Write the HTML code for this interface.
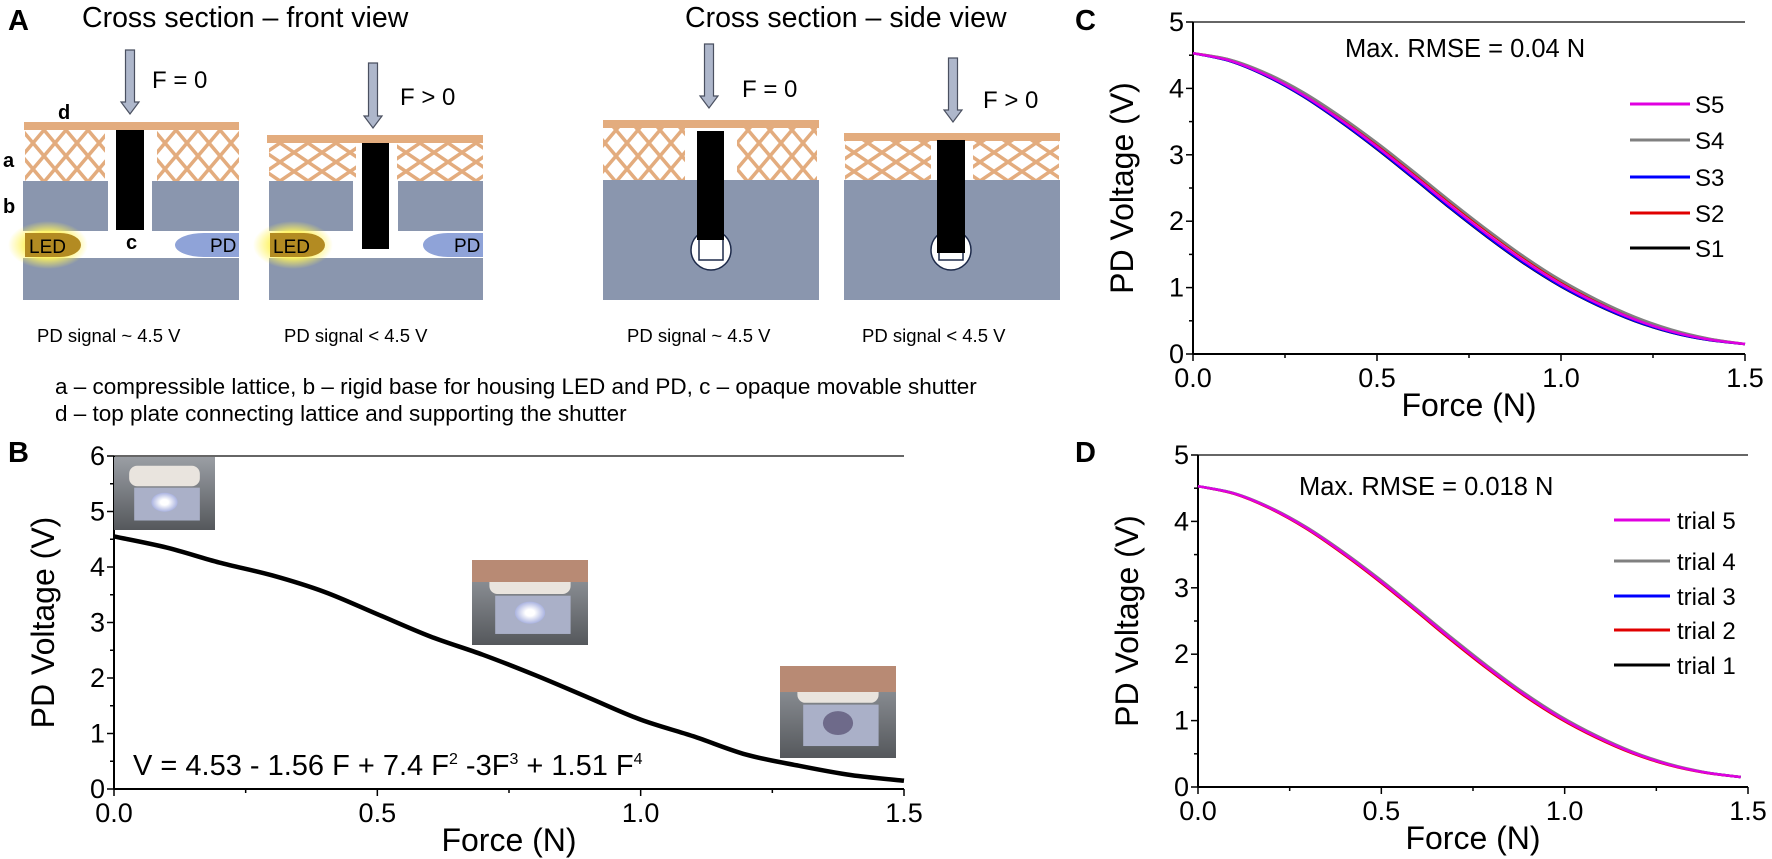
<!DOCTYPE html>
<html><head><meta charset="utf-8"><style>
html,body{margin:0;padding:0;background:#fff;}
svg{display:block;font-family:"Liberation Sans",Arial,sans-serif;}
</style></head><body>
<svg id="s" width="1772" height="859" viewBox="0 0 1772 859" xmlns="http://www.w3.org/2000/svg">
<defs>
<pattern id="lat" patternUnits="userSpaceOnUse" width="22" height="26" x="0" y="130">
<path d="M0,0 L22,26 M22,0 L0,26" stroke="#E3AC7E" stroke-width="3.5"/></pattern>
<pattern id="latc" patternUnits="userSpaceOnUse" width="28" height="19" x="0" y="143">
<path d="M0,0 L28,19 M28,0 L0,19" stroke="#E3AC7E" stroke-width="3.5"/></pattern>
<radialGradient id="glow"><stop offset="0.55" stop-color="#FFF35A" stop-opacity="0.9"/><stop offset="1" stop-color="#FFF35A" stop-opacity="0"/></radialGradient>
<linearGradient id="ph" x1="0" y1="0" x2="0" y2="1"><stop offset="0" stop-color="#9a9ea4"/><stop offset="1" stop-color="#55585c"/></linearGradient>
<radialGradient id="led2"><stop offset="0.3" stop-color="#fff"/><stop offset="1" stop-color="#aab3e0"/></radialGradient>
</defs>
<g font-size="28.5" fill="#000">
<text x="8" y="30" font-weight="bold" font-size="29">A</text>
<text x="82" y="27">Cross section – front view</text>
<text x="685" y="27">Cross section – side view</text>
</g>
<g id="diag"></g>
<g font-size="18.5">
<text x="37" y="342">PD signal ~ 4.5 V</text>
<text x="284" y="342">PD signal &lt; 4.5 V</text>
<text x="627" y="342">PD signal ~ 4.5 V</text>
<text x="862" y="342">PD signal &lt; 4.5 V</text>
<text x="55" y="394" font-size="22.5">a – compressible lattice, b – rigid base for housing LED and PD, c – opaque movable shutter</text>
<text x="55" y="421" font-size="22.5">d – top plate connecting lattice and supporting the shutter</text>
</g>
<g id="plots"></g>
</svg>
<script>
const NS="http://www.w3.org/2000/svg";
function el(p,t,a,txt){const e=document.createElementNS(NS,t);for(const k in a)e.setAttribute(k,a[k]);if(txt!==undefined)e.textContent=txt;p.appendChild(e);return e;}
const D=document.getElementById("diag");
const PL="#E3AC7E",BS="#8A96AE";
function arrow(x,y1,y2){const w=4.5;el(D,"path",{d:`M${x-w},${y1} L${x+w},${y1} L${x+w},${y2-12} L${x+9},${y2-12} L${x},${y2} L${x-9},${y2-12} L${x-w},${y2-12} Z`,fill:"#AEB7CB",stroke:"#4a5060","stroke-width":1.2});}
function txt(x,y,s,fs,b){el(D,"text",{x:x,y:y,"font-size":fs||24,"font-weight":b?"bold":"normal"},s);}
arrow(130,50,114);txt(152,88,"F = 0");
el(D,"rect",{x:24,y:122,width:215,height:8,fill:PL});
el(D,"rect",{x:25,y:130,width:80,height:51,fill:"url(#lat)"});
el(D,"rect",{x:157,y:130,width:82,height:51,fill:"url(#lat)"});
el(D,"rect",{x:23,y:181,width:85,height:50,fill:BS});
el(D,"rect",{x:152,y:181,width:87,height:50,fill:BS});
el(D,"rect",{x:23,y:258,width:216,height:42,fill:BS});
el(D,"ellipse",{cx:48,cy:245,rx:40,ry:24,fill:"url(#glow)"});
el(D,"path",{d:"M25,233 L60,233 A21,12 0 0 1 60,257 L25,257 Z",fill:"#B38B22"});
txt(29,253,"LED",19);
el(D,"path",{d:"M239,233 L204,233 A29,12 0 0 0 204,257 L239,257 Z",fill:"#8FA3D8"});
txt(210,252,"PD",19);
el(D,"rect",{x:116,y:130,width:28,height:100,fill:"#000"});
txt(58,119,"d",20,1);txt(3,167,"a",20,1);txt(3,213,"b",20,1);txt(126,249,"c",20,1);
arrow(373,63,128);txt(400,105,"F > 0");
el(D,"rect",{x:267,y:135,width:216,height:8,fill:PL});
el(D,"rect",{x:269,y:143,width:87,height:38,fill:"url(#latc)"});
el(D,"rect",{x:397,y:143,width:86,height:38,fill:"url(#latc)"});
el(D,"rect",{x:269,y:181,width:84,height:50,fill:BS});
el(D,"rect",{x:398,y:181,width:85,height:50,fill:BS});
el(D,"rect",{x:269,y:258,width:214,height:42,fill:BS});
el(D,"ellipse",{cx:293,cy:245,rx:40,ry:24,fill:"url(#glow)"});
el(D,"path",{d:"M270,233 L304,233 A21,12 0 0 1 304,257 L270,257 Z",fill:"#B38B22"});
txt(273,253,"LED",19);
el(D,"path",{d:"M483,233 L448,233 A25,12 0 0 0 448,257 L483,257 Z",fill:"#8FA3D8"});
txt(454,252,"PD",19);
el(D,"rect",{x:362,y:143,width:27,height:106,fill:"#000"});
arrow(709,44,108);txt(742,97,"F = 0");
el(D,"rect",{x:603,y:120,width:216,height:8,fill:PL});
el(D,"rect",{x:603,y:128,width:82,height:52,fill:"url(#lat)"});
el(D,"rect",{x:737,y:128,width:80,height:52,fill:"url(#lat)"});
el(D,"rect",{x:603,y:180,width:216,height:120,fill:BS});
el(D,"circle",{cx:711,cy:250,r:20,fill:"#fff",stroke:"#1d2a4a","stroke-width":1.5});
el(D,"rect",{x:699,y:238,width:24,height:22,fill:"#fff",stroke:"#1d2a4a","stroke-width":1.5});
el(D,"rect",{x:697,y:131,width:27,height:109,fill:"#000"});
arrow(953,58,122);txt(983,108,"F > 0");
el(D,"rect",{x:844,y:133,width:216,height:8,fill:PL});
el(D,"rect",{x:845,y:141,width:86,height:39,fill:"url(#latc)"});
el(D,"rect",{x:973,y:141,width:86,height:39,fill:"url(#latc)"});
el(D,"rect",{x:844,y:180,width:216,height:120,fill:BS});
el(D,"circle",{cx:951,cy:250,r:20,fill:"#fff",stroke:"#1d2a4a","stroke-width":1.5});
el(D,"rect",{x:939,y:248,width:24,height:12,fill:"#fff",stroke:"#1d2a4a","stroke-width":1.5});
el(D,"rect",{x:937,y:140,width:28,height:113,fill:"#000"});

const P=document.getElementById("plots");
function path(ax,pts){
 const p=pts.map(q=>[ax.X(q[0]),ax.Y(q[1])]);let d=`M${p[0][0]},${p[0][1]}`;
 for(let i=0;i<p.length-1;i++){const p0=p[Math.max(0,i-1)],p1=p[i],p2=p[i+1],p3=p[Math.min(p.length-1,i+2)];
 d+=` C${p1[0]+(p2[0]-p0[0])/6},${p1[1]+(p2[1]-p0[1])/6} ${p2[0]-(p3[0]-p1[0])/6},${p2[1]-(p3[1]-p1[1])/6} ${p2[0]},${p2[1]}`;}
 return d;}
function axes(o){
 const ax={X:f=>o.l+f/1.5*(o.r-o.l),Y:v=>o.b-v/o.max*(o.b-o.t)};
 el(P,"line",{x1:o.l,y1:o.t,x2:o.r,y2:o.t,stroke:"#333","stroke-width":1.5});
 el(P,"line",{x1:o.l,y1:o.b,x2:o.r,y2:o.b,stroke:"#000","stroke-width":2});
 el(P,"line",{x1:o.l,y1:o.t,x2:o.l,y2:o.b,stroke:"#000","stroke-width":2});
 for(let v=0;v<=o.max+1e-9;v+=0.5){const y=ax.Y(v),maj=Math.abs(v-Math.round(v))<1e-6;
  el(P,"line",{x1:o.l,y1:y,x2:o.l-(maj?7:4),y2:y,stroke:"#000","stroke-width":1.5});
  if(maj)el(P,"text",{x:o.l-9,y:y+9,"text-anchor":"end","font-size":27},String(v));}
 for(let f=0;f<=1.5001;f+=0.25){const x=ax.X(f),maj=Math.abs(f*2-Math.round(f*2))<1e-6;
  el(P,"line",{x1:x,y1:o.b,x2:x,y2:o.b+(maj?7:4),stroke:"#000","stroke-width":1.5});
  if(maj)el(P,"text",{x:x,y:o.b+33,"text-anchor":"middle","font-size":27},f.toFixed(1));}
 el(P,"text",{x:(o.l+o.r)/2,y:o.b+62,"text-anchor":"middle","font-size":32},"Force (N)");
 el(P,"text",{x:0,y:0,"text-anchor":"middle","font-size":32,transform:`translate(${o.l-60},${(o.t+o.b)/2}) rotate(-90)`},"PD Voltage (V)");
 return ax;}
const B=axes({l:114,r:904,t:456,b:789,max:6});
el(P,"text",{x:8,y:462,"font-weight":"bold","font-size":29},"B");
function photo(x,y,w,h,glow){el(P,"rect",{x,y,width:w,height:h,fill:"url(#ph)"});
 el(P,"rect",{x:x+w*0.15,y:y+h*0.12,width:w*0.7,height:h*0.28,rx:8,fill:"#e9e4de"});
 el(P,"rect",{x:x+w*0.2,y:y+h*0.42,width:w*0.65,height:h*0.45,fill:"#aab0c8"});
 el(P,"ellipse",{cx:x+w*0.5,cy:y+h*0.62,rx:w*0.13,ry:h*0.13,fill:glow?"url(#led2)":"#6e6a8a"});}
photo(114,457,101,73,1);photo(472,560,116,85,1);photo(780,666,116,92,0);
el(P,"rect",{x:472,y:560,width:116,height:22,fill:"#b88a74"});
el(P,"rect",{x:780,y:666,width:116,height:26,fill:"#b88a74"});
const bd=[[0,4.55],[0.1,4.35],[0.2,4.08],[0.3,3.85],[0.4,3.55],[0.5,3.15],[0.6,2.75],[0.7,2.42],[0.8,2.05],[0.9,1.65],[1.0,1.25],[1.1,0.95],[1.2,0.62],[1.3,0.42],[1.4,0.25],[1.5,0.15]];
el(P,"path",{d:path(B,bd),fill:"none",stroke:"#000","stroke-width":4.5});
const eq=el(P,"text",{x:133,y:775,"font-size":29});
eq.innerHTML='V = 4.53 - 1.56 F + 7.4 F<tspan dy="-11" font-size="16">2</tspan><tspan dy="11"> -3F</tspan><tspan dy="-11" font-size="16">3</tspan><tspan dy="11"> + 1.51 F</tspan><tspan dy="-11" font-size="16">4</tspan>';
const base=[[0,4.53],[0.1,4.42],[0.2,4.2],[0.3,3.9],[0.4,3.53],[0.5,3.12],[0.6,2.68],[0.7,2.23],[0.8,1.8],[0.9,1.4],[1.0,1.05],[1.1,0.76],[1.2,0.52],[1.3,0.34],[1.4,0.22],[1.5,0.15]];
function mod(dv){return base.map(p=>[p[0],p[1]+dv*Math.sin(Math.PI*p[0]/1.5)]);}
const C=axes({l:1193,r:1745,t:22,b:354,max:5});
el(P,"text",{x:1075,y:30,"font-weight":"bold","font-size":29},"C");
el(P,"text",{x:1345,y:57,"font-size":25.5},"Max. RMSE = 0.04 N");
const cs=[["#000",-0.04,"S1"],["#E00000",0.05,"S2"],["#0000FF",-0.03,"S3"],["#808080",0.07,"S4"],["#E000E0",0.0,"S5"]];
cs.forEach(c=>el(P,"path",{d:path(C,mod(c[1])),fill:"none",stroke:c[0],"stroke-width":2.5}));
const cy=[248,213,177,140,104];
cs.forEach((c,i)=>{el(P,"line",{x1:1630,x2:1690,y1:cy[i],y2:cy[i],stroke:c[0],"stroke-width":3});el(P,"text",{x:1695,y:cy[i]+9,"font-size":24},c[2]);});
const Dd=axes({l:1198,r:1748,t:455,b:787,max:5});
el(P,"text",{x:1075,y:462,"font-weight":"bold","font-size":29},"D");
el(P,"text",{x:1299,y:495,"font-size":25.5},"Max. RMSE = 0.018 N");
const ds=[["#000",0,"trial 1"],["#E00000",-0.02,"trial 2"],["#0000FF",0.01,"trial 3"],["#808080",0.025,"trial 4"],["#E000E0",0.0,"trial 5"]];
ds.forEach(c=>el(P,"path",{d:path(Dd,mod(c[1]).map(p=>[p[0]*1.48/1.5,p[1]])),fill:"none",stroke:c[0],"stroke-width":2.5}));
const dy=[665,630,596,561,520];
ds.forEach((c,i)=>{el(P,"line",{x1:1614,x2:1670,y1:dy[i],y2:dy[i],stroke:c[0],"stroke-width":3});el(P,"text",{x:1677,y:dy[i]+9,"font-size":24},c[2]);});
</script>
</body></html>
